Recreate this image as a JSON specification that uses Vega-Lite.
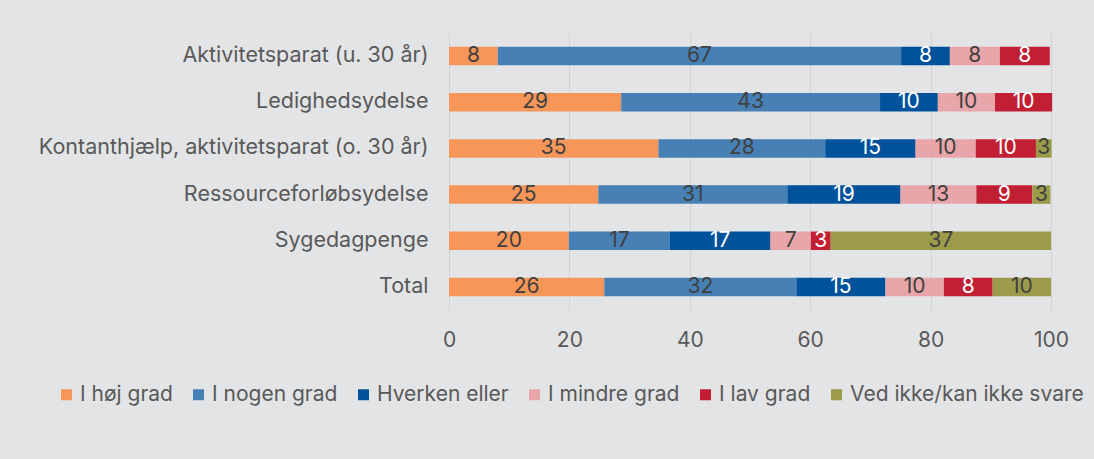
{
  "$schema": "https://vega.github.io/schema/vega-lite/v6.json",
  "width": 602,
  "height": 277,
  "autosize": {"type": "none"},
  "padding": {"left": 449, "top": 33, "right": 43, "bottom": 149},
  "background": "#e3e4e6",
  "config": {
    "view": {"stroke": null},
    "font": "Inter"
  },
  "data": {
    "values": [
      {"g": "Aktivitetsparat (u. 30 år)", "c": "I høj grad", "k": 1, "v": 8.1},
      {"g": "Aktivitetsparat (u. 30 år)", "c": "I nogen grad", "k": 2, "v": 67.0},
      {"g": "Aktivitetsparat (u. 30 år)", "c": "Hverken eller", "k": 3, "v": 8.1},
      {"g": "Aktivitetsparat (u. 30 år)", "c": "I mindre grad", "k": 4, "v": 8.3},
      {"g": "Aktivitetsparat (u. 30 år)", "c": "I lav grad", "k": 5, "v": 8.3},
      {"g": "Ledighedsydelse", "c": "I høj grad", "k": 1, "v": 28.6},
      {"g": "Ledighedsydelse", "c": "I nogen grad", "k": 2, "v": 43.0},
      {"g": "Ledighedsydelse", "c": "Hverken eller", "k": 3, "v": 9.6},
      {"g": "Ledighedsydelse", "c": "I mindre grad", "k": 4, "v": 9.5},
      {"g": "Ledighedsydelse", "c": "I lav grad", "k": 5, "v": 9.5},
      {"g": "Kontanthjælp, aktivitetsparat (o. 30 år)", "c": "I høj grad", "k": 1, "v": 34.8},
      {"g": "Kontanthjælp, aktivitetsparat (o. 30 år)", "c": "I nogen grad", "k": 2, "v": 27.7},
      {"g": "Kontanthjælp, aktivitetsparat (o. 30 år)", "c": "Hverken eller", "k": 3, "v": 15.0},
      {"g": "Kontanthjælp, aktivitetsparat (o. 30 år)", "c": "I mindre grad", "k": 4, "v": 10.0},
      {"g": "Kontanthjælp, aktivitetsparat (o. 30 år)", "c": "I lav grad", "k": 5, "v": 10.0},
      {"g": "Kontanthjælp, aktivitetsparat (o. 30 år)", "c": "Ved ikke/kan ikke svare", "k": 6, "v": 2.6},
      {"g": "Ressourceforløbsydelse", "c": "I høj grad", "k": 1, "v": 24.8},
      {"g": "Ressourceforløbsydelse", "c": "I nogen grad", "k": 2, "v": 31.4},
      {"g": "Ressourceforløbsydelse", "c": "Hverken eller", "k": 3, "v": 18.8},
      {"g": "Ressourceforløbsydelse", "c": "I mindre grad", "k": 4, "v": 12.6},
      {"g": "Ressourceforløbsydelse", "c": "I lav grad", "k": 5, "v": 9.3},
      {"g": "Ressourceforløbsydelse", "c": "Ved ikke/kan ikke svare", "k": 6, "v": 3.0},
      {"g": "Sygedagpenge", "c": "I høj grad", "k": 1, "v": 19.9},
      {"g": "Sygedagpenge", "c": "I nogen grad", "k": 2, "v": 16.8},
      {"g": "Sygedagpenge", "c": "Hverken eller", "k": 3, "v": 16.7},
      {"g": "Sygedagpenge", "c": "I mindre grad", "k": 4, "v": 6.7},
      {"g": "Sygedagpenge", "c": "I lav grad", "k": 5, "v": 3.3},
      {"g": "Sygedagpenge", "c": "Ved ikke/kan ikke svare", "k": 6, "v": 36.6},
      {"g": "Total", "c": "I høj grad", "k": 1, "v": 25.8},
      {"g": "Total", "c": "I nogen grad", "k": 2, "v": 31.9},
      {"g": "Total", "c": "Hverken eller", "k": 3, "v": 14.8},
      {"g": "Total", "c": "I mindre grad", "k": 4, "v": 9.7},
      {"g": "Total", "c": "I lav grad", "k": 5, "v": 8.1},
      {"g": "Total", "c": "Ved ikke/kan ikke svare", "k": 6, "v": 9.7}
    ]
  },
  "encoding": {
    "y": {
      "field": "g",
      "type": "nominal",
      "sort": ["Aktivitetsparat (u. 30 år)", "Ledighedsydelse", "Kontanthjælp, aktivitetsparat (o. 30 år)", "Ressourceforløbsydelse", "Sygedagpenge", "Total"],
      "scale": {"paddingInner": 0.6, "paddingOuter": 0.3},
      "axis": {
        "title": null,
        "ticks": false,
        "domain": false,
        "labelPadding": 21,
        "labelFontSize": 21.5,
        "labelColor": "#595959",
        "labelLimit": 440
      }
    }
  },
  "layer": [
    {
      "mark": {"type": "bar"},
      "encoding": {
        "x": {
          "field": "v",
          "type": "quantitative",
          "stack": "zero",
          "scale": {"domain": [0, 100], "nice": false},
          "axis": {
            "title": null,
            "values": [0, 20, 40, 60, 80, 100],
            "ticks": false,
            "domain": false,
            "grid": true,
            "gridColor": "#d2d3d5",
            "labelFlush": false,
            "labelPadding": 19,
            "labelFontSize": 21,
            "labelColor": "#595959"
          }
        },
        "color": {
          "field": "c",
          "type": "nominal",
          "scale": {
            "domain": ["I høj grad", "I nogen grad", "Hverken eller", "I mindre grad", "I lav grad", "Ved ikke/kan ikke svare"],
            "range": ["#f79659", "#4780b5", "#00529b", "#e8a6ab", "#c11f33", "#9b9b4b"]
          },
          "legend": {
            "title": null,
            "orient": "none",
            "direction": "horizontal",
            "legendX": -393,
            "legendY": 351,
            "symbolType": "square",
            "symbolSize": 121,
            "symbolStrokeWidth": 0,
            "labelFontSize": 21,
            "labelColor": "#595959",
            "labelOffset": 3,
            "columnPadding": 15,
            "labelLimit": 400
          }
        },
        "order": {"field": "k"}
      }
    },
    {
      "mark": {"type": "text", "fontSize": 21},
      "encoding": {
        "x": {"field": "v", "type": "quantitative", "stack": "zero", "bandPosition": 0.5},
        "detail": {"field": "c"},
        "order": {"field": "k"},
        "text": {"field": "v", "type": "quantitative", "format": ".0f"},
        "color": {
          "condition": {"test": "datum.c === 'Hverken eller' || datum.c === 'I lav grad'", "value": "#ffffff"},
          "value": "#404040"
        }
      }
    }
  ]
}
